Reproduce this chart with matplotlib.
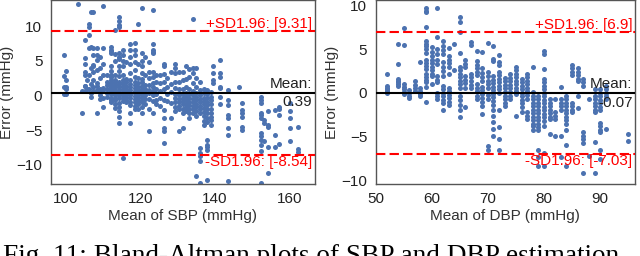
"""
Bland-Altman plots of SBP and DBP estimation
"""
import matplotlib
matplotlib.use('Agg')
import matplotlib.pyplot as plt

# SBP: column positions (mean of SBP) and errors in each column
sbp_cols = [99.5, 100.2, 103.4, 104.3, 105.3, 105.8, 106.3, 106.8, 107.4, 108.3,
            109.3, 110.1, 111.0, 112.3, 113.2, 114.4, 115.3, 116.2, 117.2, 118.5,
            119.5, 120.4, 121.3, 122.3, 123.4, 124.2, 125.4, 126.3, 127.3, 128.3,
            129.3, 130.5, 131.4, 132.3, 133.2, 134.2, 135.1, 136.0, 137.0, 138.0,
            139.0, 139.6, 141.5, 143.5, 146.5, 147.2, 152.3, 153.3, 154.2, 156.2,
            157.2, 160.2, 162.4]
sbp_errs = [
    [5.8, 2.8, 1.2, 0.2],
    [3.6, 2.3, 1.2, 1.0, 0.2],
    [13.2],
    [0.6, -2.6],
    [8.0, 5.4, 4.6, 3.4, 3.0, 1.4, 1.3, 0.6],
    [2.2, 0.9],
    [10.4, 9.9, 8.7, 6.8, 3.0, 1.0],
    [12.0, 7.0, 4.0, 1.6, 0.4, -0.2],
    [12.0, 6.8, 5.8, 4.4, 4.2, 3.4, 2.2, 1.2, 0.6],
    [6.8, 5.8, 5.1, 3.7, 1.8, 1.3, 0.8, -2.6],
    [5.5, 4.0, 2.5, 1.0, 0.5, 0.07, -0.5],
    [13.0, 6.8, 4.6, 3.0, 1.1, 0.8, -0.4, -1.6],
    [3.0, 2.0, 1.5, 0.9, 0.3, -0.2],
    [7.0, 6.6, 6.4, 6.1, 4.2, 3.6, 3.0, 2.6, 2.2, 1.8, 1.5, 1.2, 0.9, 0.6, 0.2, -0.3, -0.6, -1.0],
    [9.4, 6.0, 5.0, 3.0, 2.3, 1.9, 1.5, 1.2, 0.8, 0.5, 0.1, -0.3, -0.7, -1.2, -1.8],
    [11.3, 10.8, 10.2, 9.9, 6.1, 5.6, 5.2, 4.3, 3.6, 2.8, 2.0, 1.6, 1.2, 0.8, 0.4, 0.0,
     -0.4, -1.1, -1.6, -2.3, -3.1, -4.0],
    [6.5, 5.8, 5.0, 4.3, 2.9, 2.3, 1.8, 1.3, 0.9, 0.5, 0.1, -0.3, -0.8, -9.0],
    [4.8, 2.4, 1.9, 1.4, 1.0, 0.6, 0.2, -0.2, -0.6, -1.0],
    [7.5, 6.5, 5.6, 4.6, 3.2, 2.2, 1.7, 1.2, 0.8, 0.4, 0.0, -0.4, -0.9, -1.4, -2.6, -4.0],
    [7.6, 6.6, 5.8, 4.9, 3.7, 2.6, 1.9, 1.5, 1.1, 0.7, 0.3, -0.1, -0.5, -1.0, -1.5, -2.0],
    [10.3, 4.5, 2.5, 1.8, 1.2, 0.8, 0.4, 0.0, -0.4, -0.8, -1.3, -2.0],
    [12.6, 6.1, 5.0, 4.2, 3.3, 2.4, 1.9, 1.4, 1.0, 0.6, 0.2, -0.2, -0.6, -1.0, -1.6, -2.6],
    [5.5, 3.0, 1.5, 1.0, 0.5, 0.0, -0.5, -1.2],
    [4.9, 3.4, 2.5, 1.5, 0.8, 0.3, -0.5, -1.9, -5.2],
    [12.3, 7.5, 6.6, 6.3, 6.1, 3.4, 2.6, 1.8, 1.2, 0.6, 0.0, -0.8, -2.6],
    [3.0, 2.0, 1.0, 0.2, -0.6, -1.2],
    [3.0, 1.8, 0.6, -0.4, -1.5],
    [4.6, 4.2, 3.1, 2.0, 1.0, -0.6, -2.1, -3.3, -4.7, -5.2, -6.9],
    [2.5, 1.2, 0.2, -0.8],
    [3.4, 1.6, 0.5, -1.1, -3.3],
    [4.6, 3.9, 3.3, 2.0, 1.1, 0.2, -0.4, -1.0, -1.6, -2.2],
    [3.4, 2.0, 1.0, 0.1, -0.5, -1.0, -1.5, -2.0, -5.2],
    [3.4, 2.2, 1.0, 0.2, -0.3, -0.8, -1.3, -1.9, -2.5, -4.7],
    [4.2, 2.4, 1.2, 0.4, -0.2, -0.7, -1.2, -1.7, -2.2],
    [3.8, 2.6, 1.0, 0.2, -0.4, -0.9, -1.4, -2.0, -2.6, -3.2],
    [11.0, 4.0, 3.2, 1.8, 0.6, 0.0, -0.5, -1.0, -1.5, -2.0, -2.5],
    [4.0, 2.5, 1.2, 0.4, -0.2, -0.7, -1.2, -1.7, -2.3, -3.0, -11.6],
    [2.0, 0.8, 0.0, -0.5, -1.0, -1.5, -2.0, -2.6, -7.6, -8.3, -8.8, -9.5, -12.6],
    [1.0, 0.3, -0.3, -0.8, -1.3, -1.8, -2.4, -3.0, -3.7, -4.3],
    [0.8, 0.2, -0.4, -0.9, -1.4, -2.0, -2.6, -3.2, -3.8, -6.4, -7.1, -7.4, -7.9, -12.2],
    [0.5, -0.2, -0.7, -1.3, -1.9, -2.5, -3.1, -3.6, -4.2],
    [4.2, 3.2, 2.2, 1.8],
    [5.1, 3.2, 2.7, 1.2, 1.1, -0.2, -1.3],
    [0.8, -0.7, -1.4, -2.8, -3.3, -4.7, -5.7, -12.4],
    [1.2],
    [-1.1, -2.1, -2.6, -3.1, -4.5, -5.0],
    [-0.2, -0.7, -1.1, -2.6, -2.8, -3.3, -5.4, -5.9, -6.4, -7.1, -8.1, -12.7],
    [-3.5, -4.0, -6.6],
    [-2.3, -4.2, -4.5, -7.4, -11.2],
    [-2.1, -5.7, -7.4],
    [-1.6, -2.0, -2.8, -7.0],
    [-1.1, -2.3, -3.3, -4.7, -6.6],
    [-4.5, -7.8, -8.2],
]

# DBP
dbp_cols = [52, 54, 55, 56, 57, 58, 59, 60, 61, 62, 63, 64, 65, 66, 67, 68, 69, 70,
            71, 72, 73, 74, 75, 76, 77, 78, 79, 80, 81, 82, 83, 84, 85, 86, 87, 88,
            89, 90, 91, 95]
dbp_errs = [
    [2.2, 0.8, 0.6, 0.4, 0.2, 0.0],
    [5.6, 3.3, 1.6, 1.4, 1.2, 1.0, 0.8],
    [7.4, 5.5, 1.0, 0.7, 0.4, 0.1, -0.1],
    [0.3, 0.0, -0.3, -0.6],
    [1.3, 0.9, 0.6, 0.2],
    [3.5, 0.5, 0.2, -0.1, -0.4],
    [9.7, 9.4, 9.2, 7.5, 5.9, 5.6, 5.3, 5.0, 4.6, 3.7, 3.4, 3.1, 2.7, 2.2, 1.8, 1.5, 1.2, 0.7, -1.0],
    [5.2, 4.7, 4.2, 3.8, 3.4, 3.0, 2.6, 2.2, 1.9, 1.0],
    [9.7, 6.4, 5.0, 4.4, 3.8, 3.3, 1.9, 1.5, 1.2, 0.0, -0.4, -0.7],
    [5.9, 5.4, 4.9, 4.4, 3.5, 3.0, 2.5, 1.9, 0.8, 0.4, 0.0, -0.4, -0.8, -1.2, -1.9],
    [5.1, 4.2, 3.8, 3.4, 3.0, 2.2, 0.6, 0.2, -0.2, -0.6, -1.0, -1.4],
    [5.6, 2.6],
    [8.7, 8.1, 7.0, 4.5, 3.0, 2.6, 2.2, 1.8, 1.4, 1.0, 0.5, -0.3, -0.8, -1.4, -2.0, -2.8],
    [3.7, 3.3, 3.0, 1.9, 1.5, 1.1, 0.6, -1.6],
    [5.8, 5.5, 2.2, 1.8, 1.4, 0.9, 0.5],
    [4.8, 3.6, 3.2, 2.8, 2.4, 2.0, 1.0, 0.6, 0.2, -0.3, -0.7],
    [4.7, 2.8, 2.3, 1.8, 1.3, 0.7, 0.3, -0.1, -0.6, -1.0, -1.5, -2.4],
    [5.7, 2.4, 1.9, 1.4, 1.0, 0.5, -0.2, -0.7, -6.1, -6.5],
    [5.4, 3.9, 3.6, 1.9, 1.5, 1.1, 0.7, 0.3, -0.1, -0.5, -0.9, -1.4, -1.9, -2.6, -3.3, -4.1, -4.9],
    [4.3, 3.5, 3.2, 2.4, 2.0, 1.6, 1.2, 0.8, 0.4, 0.0, -2.0, -3.9, -5.3, -6.5],
    [1.7, 1.3, 0.9, 0.5, 0.1, -0.3, -0.7, -1.1, -1.5],
    [2.1, 1.7, 1.3, 0.9, 0.5, 0.1, -0.3, -0.7],
    [3.0, 2.6, 2.2, 1.8, 1.4, 1.0, 0.6, 0.2, -0.1, -2.6],
    [1.6, 1.2, 0.8, 0.4, 0.0, -0.4, -0.8, -1.2, -1.6, -2.2],
    [2.2, 1.8, 1.4, 1.0, 0.6, 0.2, -0.2, -0.7, -2.2, -2.6, -3.0],
    [3.0, 0.1, -0.3, -0.7, -1.1, -1.5, -1.9, -2.3, -2.7, -3.1, -3.5, -3.8, -4.2],
    [-0.3, -0.7, -1.1, -1.5, -1.9, -2.3, -2.7, -3.1, -3.5, -3.9, -4.2, -6.5, -7.3, -8.4],
    [4.8, 4.4, 2.7, 1.6, 1.2, 0.8, 0.4, 0.0, -0.4, -0.8, -1.2, -1.6, -2.0, -2.4, -2.8,
     -3.2, -3.8, -6.9, -8.4],
    [-0.7, -1.1, -1.5, -1.9, -2.3, -2.7, -3.0, -4.7],
    [-0.7, -2.2, -2.6, -3.0, -4.9],
    [0.7, -0.7, -1.1, -1.5, -1.9, -4.9, -7.3],
    [-0.3, -0.7, -1.1, -1.5, -1.9, -2.3, -2.7, -3.1, -3.5, -4.2, -5.9, -8.4],
    [3.2, 2.8, 2.4, 2.0, -1.1, -1.5, -1.9, -2.2],
    [2.8, 2.4, 2.0, 1.6, 1.3, -0.3, -1.7],
    [1.6, 1.2, 0.8, -4.5, -4.9, -5.3, -5.7, -9.1],
    [-0.7, -7.2],
    [0.4, -0.3, -0.7, -1.1, -1.5, -1.9, -2.2, -5.6, -9.1],
    [0.4, 0.0, -0.4, -0.8, -1.2, -1.6, -1.9, -3.4, -3.8, -4.2, -4.5, -6.5, -7.5],
    [0.8, 0.4, 0.0, -0.4, -0.7, -4.1],
    [-4.7, -5.5],
]

# mean and limits of agreement written on the figure
sbp_stats = (0.39, 9.31, -8.54)
dbp_stats = (-0.07, 6.9, -7.03)

plt.rcParams['font.family'] = ['Liberation Sans', 'DejaVu Sans']
plt.rcParams['axes.unicode_minus'] = True

fig = plt.figure(figsize=(6.4, 2.56), dpi=100)
ax1 = fig.add_axes([50.7 / 640, 72 / 256, 264.3 / 640, 184 / 256])
ax2 = fig.add_axes([375.5 / 640, 72 / 256, 259.5 / 640, 184 / 256])


def bland_altman(ax, cols, errs, stats, xlabel, xlim, ylim, xticks, yticks):
    xs, ys = [], []
    for c, e in zip(cols, errs):
        xs += [c] * len(e)
        ys += e
    ax.scatter(xs, ys, s=13, color='#4c72b0', linewidths=0, zorder=2)
    mean, hi, lo = stats
    ax.axhline(mean, color='black', linewidth=1.5, zorder=3)
    ax.axhline(hi, color='#ff0000', linewidth=1.5, dashes=(4.5, 2), zorder=3)
    ax.axhline(lo, color='#ff0000', linewidth=1.5, dashes=(4.5, 2), zorder=3)
    tr = ax.get_yaxis_transform()
    ax.text(0.99, hi, '+SD1.96: [%s]' % hi, color='#ff0000', fontsize=11,
            ha='right', va='bottom', transform=tr)
    ax.text(0.99, lo, '-SD1.96: [%s]' % lo, color='#ff0000', fontsize=11,
            ha='right', va='top', transform=tr)
    ax.text(0.99, mean + 0.3, 'Mean:', color='#222222', fontsize=11,
            ha='right', va='bottom', transform=tr)
    ax.text(0.99, mean - 0.3, '%s' % mean, color='#222222', fontsize=11,
            ha='right', va='top', transform=tr)
    ax.set_xlim(*xlim)
    ax.set_ylim(*ylim)
    ax.set_xticks(xticks)
    ax.set_yticks(yticks)
    ax.set_xlabel(xlabel, fontsize=11, color='#333333', labelpad=2)
    ax.set_ylabel('Error (mmHg)', fontsize=11, color='#333333', labelpad=2)
    ax.tick_params(length=0, labelsize=11, labelcolor='#222222', pad=6)
    for sp in ax.spines.values():
        sp.set_color('#555555')
        sp.set_linewidth(1.0)


bland_altman(ax1, sbp_cols, sbp_errs, sbp_stats, 'Mean of SBP (mmHg)',
             (96, 166.9), (-12.8, 13.8), [100, 120, 140, 160], [-10, -5, 0, 5, 10])
bland_altman(ax2, dbp_cols, dbp_errs, dbp_stats, 'Mean of DBP (mmHg)',
             (50.1, 96.2), (-10.4, 10.6), [50, 60, 70, 80, 90], [-10, -5, 0, 5, 10])

# caption, cut at the bottom edge as in the source image
fig.text(0.492, -0.028, 'Fig. 11: Bland-Altman plots of SBP and DBP estimation.',
         family=['Liberation Serif', 'DejaVu Serif'], fontsize=19.6,
         ha='center', va='baseline', color='black')

plt.savefig('out.png', dpi=100)
